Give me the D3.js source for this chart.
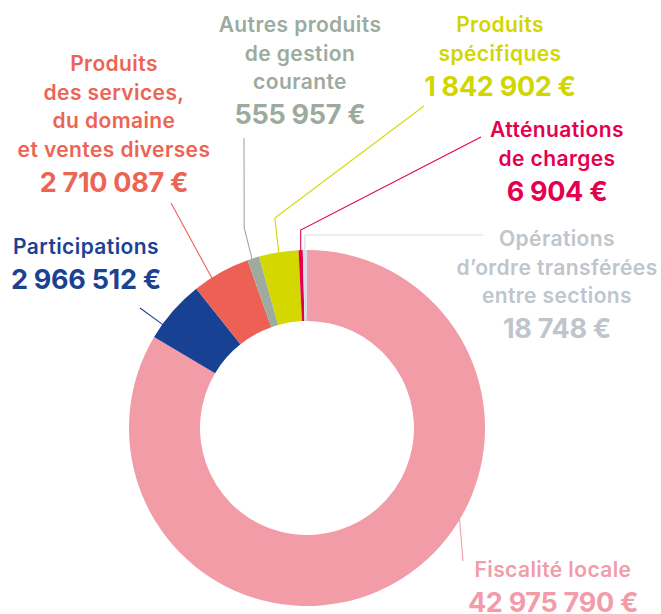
<!DOCTYPE html>
<html>
<head>
<meta charset="utf-8">
<script src="https://cdn.jsdelivr.net/npm/d3@7"></script>
<style>
  html, body { margin: 0; padding: 0; background: #fff; }
  text { font-family: Inter, Lato, sans-serif; font-weight: 600; }
</style>
</head>
<body>
<div id="vis"></div>
<script>
// data
var categories = [
  "Fiscalité locale",
  "Participations",
  "Produits des services, du domaine et ventes diverses",
  "Autres produits de gestion courante",
  "Produits spécifiques",
  "Atténuations de charges",
  "Opérations d’ordre transférées entre sections"
];
var amounts = [42975790, 2966512, 2710087, 555957, 1842902, 6904, 18748];
var amountLabels = ["42 975 790 €", "2 966 512 €", "2 710 087 €", "555 957 €", "1 842 902 €", "6 904 €", "18 748 €"];
// how each name is broken on the picture
var labelLines = [
  ["Fiscalité locale"],
  ["Participations"],
  ["Produits", "des services,", "du domaine", "et ventes diverses"],
  ["Autres produits", "de gestion", "courante"],
  ["Produits", "spécifiques"],
  ["Atténuations", "de charges"],
  ["Opérations", "d’ordre transférées", "entre sections"]
];
var colors = ["#f29ca8", "#184194", "#ec6154", "#9eab9f", "#d4d800", "#e4004f", "#d6dde4"];
var textColors = ["#f29ca9", "#1b4292", "#ec6454", "#9cab9e", "#d2d600", "#e4004f", "#bfc5cc"];

// layout (label anchor = first baseline, leader start, where the leader hits the slice)
var labelPos = [
  { x: 553, y: 577 }, { x: 86, y: 254 }, { x: 114, y: 71 }, { x: 300, y: 32 },
  { x: 500, y: 32 }, { x: 557, y: 137 }, { x: 557, y: 246 }
];
var leaders = [
  { from: [463, 561], t: 0.166 },
  { from: [140, 308], t: 0.235 },
  { from: [171, 203], t: 0.32 },
  { from: [244, 138], elbowY: 228, elbowDx: -8, t: 0.38 },
  { from: [424, 106], elbowY: 218, elbowDx: -4, t: 0.5 },
  { from: [481, 137], elbowY: 230, elbowDx: 0, t: 0.5 },
  { from: [483, 235], elbowY: 235, elbowDx: 0, t: 0.5 }
];

var W = 661, H = 614;
var cx = 307, cy = 428, outerR = 178, innerR = 107;
var lineGap = 28.5, valueGap = 35;

var svg = d3.select("#vis").append("svg")
  .attr("width", W)
  .attr("height", H);

var rows = categories.map(function (c, i) { return { name: c, value: amounts[i], i: i }; });
var total = d3.sum(amounts);
// tiny slices get a minimum visible width, as on the original
var minShare = 0.0038;

var pie = d3.pie()
  .sort(null)
  .value(function (d) { return Math.max(d.value, total * minShare); });

var arc = d3.arc().innerRadius(innerR).outerRadius(outerR);
var arcs = pie(rows);

var g = svg.append("g").attr("transform", "translate(" + cx + "," + cy + ")");

////////// leaders //////////
function pointAt(a, r) {
  return [cx + r * Math.sin(a), cy - r * Math.cos(a)];
}

arcs.forEach(function (a, i) {
  var L = leaders[i];
  var ang = a.startAngle + (a.endAngle - a.startAngle) * L.t;
  var end = pointAt(ang, outerR - 1);
  var pts = [L.from];
  if (L.elbowY != null) pts.push([end[0] + L.elbowDx, L.elbowY]);
  pts.push(end);
  svg.append("polyline")
    .attr("points", pts.map(function (p) { return p.join(","); }).join(" "))
    .attr("fill", "none")
    .attr("stroke", colors[i])
    .attr("stroke-width", 1.1);
});

////////// slices //////////
g.selectAll("path.slice")
  .data(arcs)
  .enter()
  .append("path")
  .attr("class", "slice")
  .attr("d", arc)
  .attr("fill", function (d) { return colors[d.data.i]; });

////////// labels //////////
labelPos.forEach(function (p, i) {
  var t = svg.append("text")
    .attr("text-anchor", "middle")
    .attr("fill", textColors[i]);
  labelLines[i].forEach(function (ln, k) {
    t.append("tspan")
      .attr("x", p.x)
      .attr("y", p.y + k * lineGap)
      .style("font-size", "21px")
      .style("letter-spacing", "0.4px")
      .text(ln);
  });
  t.append("tspan")
    .attr("x", p.x)
    .attr("y", p.y + (labelLines[i].length - 1) * lineGap + valueGap)
    .style("font-size", "27px")
    .style("font-weight", 700)
    .style("letter-spacing", "-0.3px")
    .text(amountLabels[i]);
});
</script>
</body>
</html>
